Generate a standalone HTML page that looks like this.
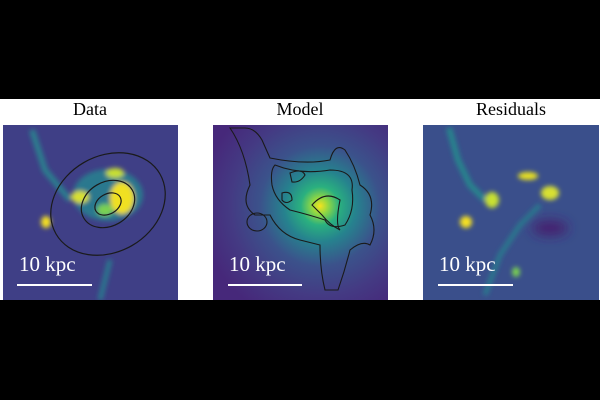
<!DOCTYPE html>
<html><head><style>
html,body{margin:0;padding:0;background:#000;}
svg{display:block}
text{font-family:"Liberation Serif",serif;}
</style></head><body>
<svg width="600" height="400" viewBox="0 0 600 400" xmlns="http://www.w3.org/2000/svg">
<defs>
<filter id="b" x="-50%" y="-50%" width="200%" height="200%"><feGaussianBlur stdDeviation="2.5"/></filter>
<filter id="b2" x="-50%" y="-50%" width="200%" height="200%"><feGaussianBlur stdDeviation="5"/></filter>
<radialGradient id="mg" cx="320" cy="206" r="120" gradientUnits="userSpaceOnUse">
<stop offset="0" stop-color="#f5e31d"/>
<stop offset="0.07" stop-color="#8fd744"/>
<stop offset="0.16" stop-color="#2ab07f"/>
<stop offset="0.3" stop-color="#26828e"/>
<stop offset="0.5" stop-color="#3b528b"/>
<stop offset="0.75" stop-color="#443a83"/>
<stop offset="1" stop-color="#46287a"/>
</radialGradient>
<clipPath id="c1"><rect x="3" y="125" width="175" height="175"/></clipPath>
<clipPath id="c3"><rect x="423" y="125" width="176" height="175"/></clipPath>
</defs>
<rect x="0" y="99" width="600" height="201" fill="#fff"/>
<text x="90" y="115" font-size="18" text-anchor="middle">Data</text>
<text x="300" y="115" font-size="18" text-anchor="middle">Model</text>
<text x="511" y="115" font-size="18" text-anchor="middle">Residuals</text>

<!-- Data -->
<g clip-path="url(#c1)">
<rect x="3" y="125" width="175" height="175" fill="#3f3f86"/>
<g filter="url(#b)">
<path d="M32 130 L45 170 L70 200" stroke="#2a7f8e" stroke-width="6" fill="none"/>
<path d="M100 300 L110 260" stroke="#2a788e" stroke-width="5" fill="none"/>
<ellipse cx="108" cy="195" rx="35" ry="26" fill="#2a788e"/>
<ellipse cx="122" cy="198" rx="12" ry="16" fill="#f0e020"/>
<ellipse cx="80" cy="197" rx="9" ry="6" fill="#d8e030"/>
<ellipse cx="115" cy="173" rx="9" ry="5" fill="#c8e030"/>
<ellipse cx="46" cy="222" rx="5" ry="6" fill="#f5e020"/>
<ellipse cx="105" cy="210" rx="8" ry="6" fill="#7ad151"/>
</g>
<g fill="none" stroke="#1a1a1a" stroke-width="1.2">
<ellipse cx="108" cy="204" rx="60" ry="48" transform="rotate(-30 108 204)"/>
<ellipse cx="108" cy="204" rx="28" ry="22" transform="rotate(-30 108 204)"/>
<ellipse cx="108" cy="204" rx="14" ry="10" transform="rotate(-30 108 204)"/>
</g>
</g>
<text x="19" y="271" font-size="21" fill="#fff">10 kpc</text>
<rect x="17" y="284" width="75" height="2" fill="#fff"/>

<!-- Model -->
<rect x="213" y="125" width="175" height="175" fill="url(#mg)"/>
<g fill="none" stroke="#1a1a1a" stroke-width="1.1">
<path d="M230 128 Q245 150 250 185 Q240 205 255 215 L270 215 Q280 235 300 240 L320 245 Q320 270 325 290 L338 290 Q345 270 350 250 Q362 240 370 245 Q378 230 370 215 Q376 195 360 185 Q355 165 345 150 Q335 142 330 160 Q305 165 270 158 L262 140 Q255 128 245 128 Z"/>
<path d="M275 165 Q300 175 330 170 Q355 170 352 190 Q355 210 345 225 Q330 230 325 220 Q310 215 290 210 Q275 200 272 185 Q270 170 275 165 Z"/>
<path d="M312 205 Q325 190 340 200 Q335 225 340 230 Q330 225 322 215 Q315 208 312 205 Z"/>
<path d="M290 173 Q302 168 305 175 Q300 183 292 182 Z"/>
<path d="M282 193 Q292 190 292 200 Q286 205 282 200 Z"/>
<ellipse cx="257" cy="222" rx="10" ry="9"/>
</g>
<text x="229" y="271" font-size="21" fill="#fff">10 kpc</text>
<rect x="228" y="284" width="74" height="2" fill="#fff"/>

<!-- Residuals -->
<g clip-path="url(#c3)">
<rect x="423" y="125" width="176" height="175" fill="#3a4f8b"/>
<g filter="url(#b)">
<path d="M449 128 L458 160 L470 185 L485 200" stroke="#25858d" stroke-width="6" fill="none"/>
<path d="M485 295 L500 255 L520 225 L540 205" stroke="#2a788e" stroke-width="5" fill="none"/>
<ellipse cx="550" cy="228" rx="18" ry="8" fill="#44206f" filter="url(#b2)"/>
<ellipse cx="492" cy="200" rx="7" ry="8" fill="#c8e030"/>
<ellipse cx="528" cy="176" rx="10" ry="4" fill="#e8e020"/>
<ellipse cx="550" cy="193" rx="9" ry="7" fill="#d8e030"/>
<ellipse cx="466" cy="222" rx="6" ry="6" fill="#f5e020"/>
<ellipse cx="516" cy="272" rx="4" ry="5" fill="#7ad151"/>
</g>
</g>
<text x="439" y="271" font-size="21" fill="#fff">10 kpc</text>
<rect x="438" y="284" width="75" height="2" fill="#fff"/>
</svg>
</body></html>
